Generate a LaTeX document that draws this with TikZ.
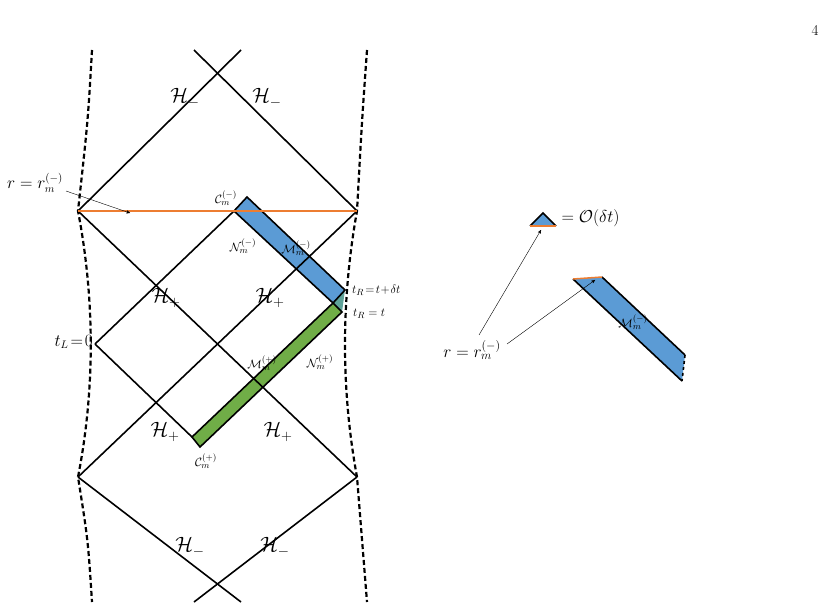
\documentclass[tikz,border=0pt]{standalone}
\usepackage{amsmath}
\usepackage{fontspec}
\usetikzlibrary{arrows,positioning}
\definecolor{strip-blue}{HTML}{5b9bd5}
\definecolor{strip-green}{HTML}{70ad47}
\definecolor{strip-teal}{HTML}{5fa39a}
\definecolor{line-orange}{HTML}{ed7d31}
\newcommand{\fs}[1]{\fontsize{#1}{#1}\selectfont}

\begin{document}
\begin{tikzpicture}[x=1pt,y=-1pt,>=stealth',font=\fs{13}]
  \tikzstyle{wall}=[line width=2.2pt,dashed,dash pattern=on 5pt off 3pt]
  \tikzstyle{ray}=[line width=1.6pt]
  \tikzstyle{strip}=[line width=1.6pt,draw=black]
  \tikzstyle{lbl}=[inner sep=0pt]
  \tikzstyle{region}=[font=\fs{20}]
  \useasboundingbox (0,0) rectangle (840,602);

  %% Corners
  \coordinate (lt) at (78,211);
  \coordinate (rt) at (357,211);
  \coordinate (lb) at (78,477);
  \coordinate (rb) at (357,477);
  \coordinate (tl) at (95,344);

  %% Walls
  \draw[wall] (92,50) .. controls (88,120) .. (lt) .. controls (95,300) and (95,390) .. (lb) .. controls (88,540) .. (92,602);
  \draw[wall] (367,50) .. controls (362,120) .. (rt) .. controls (341,300) and (341,390) .. (rb) .. controls (362,540) .. (367,602);

  %% Strips
  \coordinate (ca) at (247,197);
  \coordinate (cb) at (234,211);
  \coordinate (bu) at (345,290);
  \coordinate (bl) at (333,303);
  \coordinate (gu) at (342,312);
  \coordinate (ga) at (192,437);
  \coordinate (gb) at (200,447);
  \fill[strip-teal] (bl) -- (bu) -- (gu) -- cycle;
  \filldraw[strip,fill=strip-blue] (cb) -- (ca) -- (bu) -- (bl) -- cycle;
  \filldraw[strip,fill=strip-green] (bl) -- (gu) -- (gb) -- (ga) -- cycle;

  %% Rays
  \draw[ray] (lt) -- (241,50);
  \draw[ray] (rt) -- (194,50);
  \draw[ray] (lt) -- (rb);
  \draw[ray] (rt) -- (lb);
  \draw[ray] (tl) -- (cb);
  \draw[ray] (tl) -- (ga);
  \draw[ray] (lb) -- (241,602);
  \draw[ray] (rb) -- (194,602);

  %% Orange slice
  \draw[line-orange,line width=1.5pt] (lt) -- (rt);

  %% Regions
  \node[region] (h1) at (185,98) {$\mathcal{H}_-$};
  \node[region] (h2) at (267,98) {$\mathcal{H}_-$};
  \node[region] (h3) at (166,298) {$\mathcal{H}_+$};
  \node[region] (h4) at (270,298) {$\mathcal{H}_+$};
  \node[region] (h5) at (165,432) {$\mathcal{H}_+$};
  \node[region] (h6) at (278,432) {$\mathcal{H}_+$};
  \node[region] (h7) at (190,547) {$\mathcal{H}_-$};
  \node[region] (h8) at (275,547) {$\mathcal{H}_-$};

  %% Labels
  \node[font=\fs{15}] (page) at (815,30) {4};
  \node[lbl,font=\fs{16}] (rlab) at (35,183) {$r=r_m^{(-)}$};
  \coordinate (rtip) at (130,213);
  \draw[->] (66,191) -- (rtip);
  \node[lbl] (cm) at (226,198) {$\mathcal{C}_m^{(-)}$};
  \node[lbl] (nm) at (243,246) {$\mathcal{N}_m^{(-)}$};
  \node[lbl] (mm) at (296,248) {$\mathcal{M}_m^{(-)}$};
  \node[lbl,anchor=west] (tr1) at (352,290) {$t_R\!=\!t\!+\!\delta t$};
  \node[lbl,anchor=west] (tr2) at (353,314) {$t_R=t$};
  \node[lbl,anchor=east,font=\fs{16}] (tl0) at (93,342) {$t_L\!=\!0$};
  \node[lbl] (mp) at (262,363) {$\mathcal{M}_m^{(+)}$};
  \node[lbl] (np) at (320,362) {$\mathcal{N}_m^{(+)}$};
  \node[lbl] (cp) at (206,461) {$\mathcal{C}_m^{(+)}$};

  %% Inset
  \coordinate (ta) at (543,213);
  \coordinate (tb) at (530,226);
  \coordinate (tc) at (556,226);
  \fill[strip-blue] (tb) -- (ta) -- (tc) -- cycle;
  \draw[strip] (tb) -- (ta) -- (tc);
  \draw[line-orange,line width=1.5pt] (tb) -- (tc);
  \node[anchor=west,font=\fs{18}] (od) at (558,218) {$=\mathcal{O}(\delta t)$};
  \coordinate (sa) at (573,279);
  \coordinate (sb) at (602,277);
  \coordinate (sc) at (685,355);
  \coordinate (sd) at (682,381);
  \fill[strip-blue] (sa) -- (sb) -- (sc) -- (sd) -- cycle;
  \draw[strip] (sa) -- (sd);
  \draw[strip] (sb) -- (sc);
  \draw[line width=1.6pt,dashed] (sc) -- (sd);
  \draw[line-orange,line width=1.5pt] (sa) -- (sb);
  \node[lbl] (ms) at (633,322) {$\mathcal{M}_m^{(-)}$};
  \node[lbl,font=\fs{18}] (rs) at (472,350) {$r=r_m^{(-)}$};
  \draw[->] (479,335) -- (541,230);
  \draw[->] (507,344) -- (595,280);
\end{tikzpicture}
\end{document}
